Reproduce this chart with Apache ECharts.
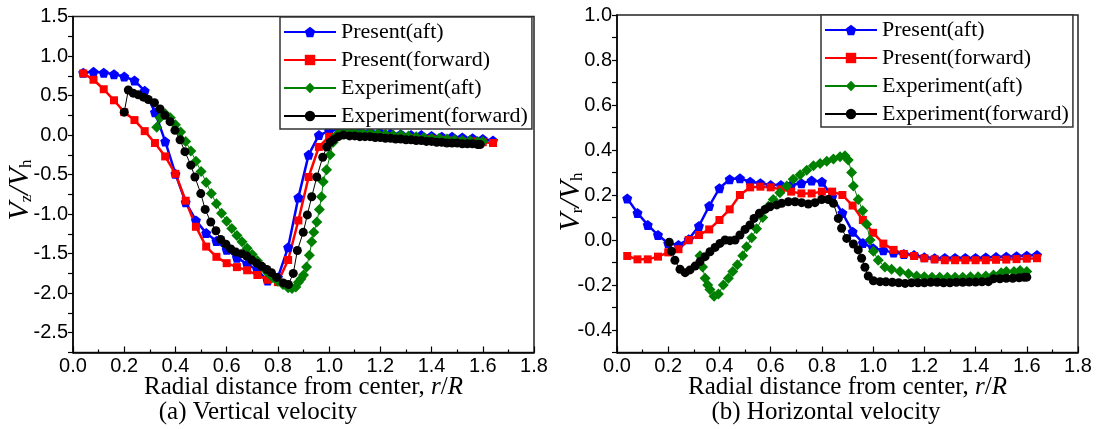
<!DOCTYPE html>
<html><head><meta charset="utf-8">
<script src="https://cdn.jsdelivr.net/npm/echarts/dist/echarts.min.js"></script>
<style>html,body{margin:0;padding:0;background:#fff}#c{width:1100px;height:429px}</style>
</head><body><div id="c"></div>
<script>
const seriesNames = ['Present(aft)', 'Present(forward)', 'Experiment(aft)', 'Experiment(forward)'];
const captions = ['(a) Vertical velocity', '(b) Horizontal velocity'];

// shared radial stations of the present computation
const presentX = [0.04,0.08,0.12,0.16,0.20,0.24,0.28,0.32,0.36,0.40,0.44,0.48,0.52,0.56,0.60,0.64,0.68,0.72,0.76,0.80,0.84,0.88,0.92,0.96,1.00,1.04,1.08,1.12,1.16,1.20,1.24,1.28,1.32,1.36,1.40,1.44,1.48,1.52,1.56,1.60,1.64];

// (a) vertical velocity
const vzPresentAft = [0.79,0.80,0.79,0.77,0.74,0.69,0.56,0.29,-0.08,-0.49,-0.85,-1.08,-1.24,-1.34,-1.45,-1.55,-1.63,-1.71,-1.84,-1.80,-1.42,-0.79,-0.25,0.00,0.05,0.07,0.06,0.05,0.04,0.03,0.02,0.01,0.00,0.00,-0.01,-0.02,-0.02,-0.03,-0.04,-0.05,-0.07];
const vzPresentFwd = [0.78,0.70,0.58,0.44,0.29,0.19,0.05,-0.10,-0.27,-0.49,-0.83,-1.16,-1.41,-1.54,-1.62,-1.67,-1.71,-1.77,-1.83,-1.86,-1.58,-1.08,-0.53,-0.15,-0.02,0.02,0.01,0.00,-0.01,-0.02,-0.03,-0.03,-0.04,-0.05,-0.05,-0.06,-0.07,-0.08,-0.08,-0.09,-0.10];
const vzExpAftX = [0.327,0.34,0.36,0.38,0.40,0.42,0.44,0.46,0.48,0.50,0.52,0.54,0.56,0.58,0.60,0.62,0.64,0.66,0.68,0.70,0.72,0.74,0.76,0.78,0.80,0.82,0.84,0.855,0.87,0.88,0.89,0.90,0.912,0.923,0.932,0.94,0.952,0.962,0.97,0.977,0.99,1.004,1.016,1.03,1.05,1.07,1.10,1.13,1.16,1.19,1.22,1.25,1.28,1.31,1.34,1.37,1.40,1.43,1.46,1.49,1.52,1.55,1.58,1.60];
const vzExpAftY = [0.10,0.22,0.27,0.22,0.13,0.04,-0.08,-0.20,-0.33,-0.46,-0.60,-0.74,-0.87,-0.99,-1.09,-1.18,-1.27,-1.35,-1.43,-1.51,-1.59,-1.67,-1.74,-1.80,-1.85,-1.89,-1.93,-1.94,-1.92,-1.86,-1.82,-1.77,-1.67,-1.52,-1.35,-1.23,-1.10,-0.94,-0.78,-0.59,-0.44,-0.25,-0.09,0.00,0.04,0.05,0.04,0.03,0.03,0.02,0.01,0.00,0.00,-0.01,-0.02,-0.03,-0.04,-0.04,-0.05,-0.06,-0.07,-0.07,-0.08,-0.08];
const vzExpFwdX = [0.200,0.216,0.235,0.255,0.275,0.294,0.318,0.340,0.359,0.379,0.398,0.418,0.437,0.460,0.476,0.499,0.516,0.538,0.558,0.577,0.597,0.616,0.636,0.659,0.678,0.698,0.717,0.737,0.757,0.775,0.795,0.821,0.841,0.860,0.876,0.899,0.915,0.932,0.952,0.975,0.991,1.004,1.016,1.036,1.056,1.08,1.10,1.12,1.14,1.16,1.18,1.20,1.22,1.24,1.26,1.28,1.30,1.32,1.34,1.36,1.38,1.40,1.42,1.44,1.46,1.48,1.50,1.52,1.54,1.56,1.58,1.59];
const vzExpFwdY = [0.29,0.57,0.53,0.51,0.48,0.45,0.41,0.33,0.25,0.17,0.06,-0.06,-0.21,-0.38,-0.53,-0.74,-0.94,-1.10,-1.21,-1.32,-1.38,-1.44,-1.48,-1.50,-1.53,-1.58,-1.62,-1.66,-1.70,-1.74,-1.80,-1.87,-1.89,-1.75,-1.46,-1.23,-1.01,-0.78,-0.53,-0.28,-0.15,-0.09,-0.06,-0.02,0.00,-0.01,-0.01,-0.02,-0.02,-0.02,-0.03,-0.03,-0.04,-0.04,-0.05,-0.05,-0.06,-0.06,-0.07,-0.07,-0.08,-0.08,-0.09,-0.09,-0.10,-0.10,-0.10,-0.11,-0.11,-0.11,-0.12,-0.12];

// (b) horizontal velocity
const vrPresentAft = [0.185,0.12,0.067,0.022,-0.015,-0.022,0.003,0.062,0.151,0.23,0.27,0.274,0.259,0.252,0.244,0.244,0.244,0.252,0.264,0.259,0.192,0.12,0.037,-0.013,-0.037,-0.046,-0.056,-0.062,-0.067,-0.077,-0.081,-0.08,-0.08,-0.08,-0.08,-0.078,-0.076,-0.074,-0.072,-0.07,-0.067];
const vrPresentFwd = [-0.071,-0.086,-0.086,-0.074,-0.055,-0.041,0.0,0.022,0.047,0.089,0.136,0.2,0.234,0.237,0.234,0.225,0.215,0.207,0.207,0.215,0.215,0.2,0.153,0.089,0.032,-0.016,-0.044,-0.062,-0.071,-0.081,-0.086,-0.09,-0.09,-0.09,-0.09,-0.09,-0.088,-0.087,-0.085,-0.083,-0.081];
const vrExpAftX = [0.324,0.334,0.344,0.354,0.363,0.379,0.396,0.415,0.435,0.452,0.470,0.491,0.506,0.526,0.545,0.569,0.591,0.610,0.636,0.663,0.688,0.715,0.741,0.767,0.793,0.819,0.845,0.871,0.890,0.903,0.916,0.923,0.942,0.959,0.975,0.988,1.001,1.020,1.046,1.072,1.105,1.138,1.170,1.20,1.23,1.26,1.29,1.32,1.35,1.38,1.41,1.44,1.47,1.50,1.52,1.55,1.574,1.60];
const vrExpAftY = [-0.07,-0.12,-0.17,-0.20,-0.22,-0.25,-0.24,-0.20,-0.17,-0.14,-0.11,-0.07,-0.03,0.01,0.05,0.10,0.15,0.18,0.21,0.24,0.27,0.29,0.31,0.33,0.34,0.35,0.36,0.37,0.375,0.356,0.30,0.24,0.18,0.13,0.07,0.00,-0.05,-0.09,-0.12,-0.13,-0.14,-0.15,-0.16,-0.163,-0.165,-0.165,-0.165,-0.165,-0.165,-0.163,-0.163,-0.16,-0.155,-0.145,-0.14,-0.14,-0.136,-0.14];
const vrExpFwdX = [0.204,0.213,0.226,0.246,0.266,0.285,0.305,0.324,0.344,0.363,0.383,0.402,0.422,0.441,0.461,0.480,0.500,0.519,0.535,0.556,0.578,0.597,0.624,0.643,0.669,0.695,0.721,0.747,0.773,0.799,0.825,0.845,0.864,0.877,0.897,0.923,0.942,0.955,0.968,0.981,1.001,1.027,1.05,1.075,1.10,1.125,1.15,1.175,1.20,1.225,1.25,1.275,1.30,1.325,1.35,1.375,1.40,1.425,1.45,1.47,1.495,1.52,1.545,1.57,1.59,1.60];
const vrExpFwdY = [-0.01,-0.05,-0.09,-0.13,-0.145,-0.133,-0.116,-0.096,-0.074,-0.052,-0.033,-0.015,0.0,-0.003,0.0,0.022,0.047,0.067,0.096,0.119,0.136,0.148,0.156,0.163,0.170,0.170,0.166,0.160,0.166,0.180,0.180,0.163,0.096,0.052,0.007,-0.018,-0.044,-0.081,-0.121,-0.160,-0.181,-0.185,-0.186,-0.188,-0.19,-0.193,-0.19,-0.19,-0.19,-0.188,-0.188,-0.19,-0.19,-0.188,-0.188,-0.187,-0.187,-0.186,-0.185,-0.172,-0.172,-0.17,-0.17,-0.168,-0.166,-0.165];

const zip = (xs, ys) => xs.map((x, i) => [x, ys[i]]);
const PENTAGON = 'path://M50,0 L97.55,34.55 L79.39,90.45 L20.61,90.45 L2.45,34.55 Z';
const SERIF = 'Liberation Serif';
const SANS = 'Liberation Sans';

const styles = [
  { color: '#0000ff', symbol: PENTAGON, symbolSize: 10, width: 2.5 },
  { color: '#ff0000', symbol: 'rect', symbolSize: 8, width: 2.5 },
  { color: '#008000', symbol: 'diamond', symbolSize: 11, width: 1 },
  { color: '#000000', symbol: 'circle', symbolSize: 9, width: 1 }
];

function mk(idx, gi, data) {
  const s = styles[idx];
  return {
    type: 'line', name: seriesNames[idx], xAxisIndex: gi, yAxisIndex: gi,
    data: data, symbol: s.symbol, symbolSize: s.symbolSize, showSymbol: true,
    lineStyle: { color: s.color, width: s.width },
    itemStyle: { color: s.color, borderWidth: 0 },
    animation: false, silent: true, clip: false
  };
}

function xAxis(gi) {
  return {
    type: 'value', gridIndex: gi, min: 0, max: 1.8, interval: 0.2,
    name: 'Radial distance from center, {i|r}/{i|R}', nameLocation: 'middle', nameGap: 22,
    nameMoveOverlap: false,
    nameTextStyle: { fontFamily: SERIF, fontSize: 25, color: '#000', lineHeight: 25,
      rich: { i: { fontFamily: SERIF, fontSize: 25, fontStyle: 'italic', color: '#000', lineHeight: 25 } } },
    axisLine: { show: true, onZero: false, lineStyle: { color: '#000', width: 1.5 } },
    axisTick: { show: true, inside: true, length: 6, lineStyle: { color: '#000', width: 1.2 } },
    minorTick: { show: true, splitNumber: 2, length: 3, lineStyle: { color: '#000', width: 1.2 } },
    splitLine: { show: false },
    axisLabel: { fontFamily: SANS, fontSize: 20, color: '#000', margin: 4,
      formatter: v => v.toFixed(1) }
  };
}

function yAxis(gi, min, max, step, keep) {
  return {
    type: 'value', gridIndex: gi, min: min, max: max, interval: step,
    axisLine: { show: true, onZero: false, lineStyle: { color: '#000', width: 1.5 } },
    axisTick: { show: true, inside: false, length: 5, lineStyle: { color: '#000', width: 1.2 } },
    splitLine: { show: false },
    axisLabel: { fontFamily: SANS, fontSize: 20, color: '#000', margin: 5, formatter: keep }
  };
}

function legend(left, top) {
  return {
    data: seriesNames, orient: 'vertical', left: left, top: top,
    backgroundColor: '#fff', borderColor: '#333', borderWidth: 1.5,
    padding: [3, 4, 1, 3], itemWidth: 52, itemHeight: 13, itemGap: 4,
    selectedMode: false,
    textStyle: { fontFamily: SERIF, fontSize: 22, color: '#000', lineHeight: 24 }
  };
}

const richY = {
  v: { fontFamily: SERIF, fontSize: 30, fontStyle: 'italic', lineHeight: 30, verticalAlign: 'top', fill: '#000' },
  s: { fontFamily: SERIF, fontSize: 17, lineHeight: 17, verticalAlign: 'bottom', padding: [17, 0, 0, 0], fill: '#000' }
};

const option = {
  backgroundColor: '#fff',
  animation: false,
  grid: [
    { left: 73, top: 16.5, width: 461, height: 336, show: true, borderColor: '#222', borderWidth: 1.5 },
    { left: 617, top: 15, width: 461, height: 337.5, show: true, borderColor: '#222', borderWidth: 1.5 }
  ],
  xAxis: [xAxis(0), xAxis(1)],
  yAxis: [
    yAxis(0, -2.75, 1.5, 0.25, v => (Math.round(v * 100) % 50 === 0 ? v.toFixed(1) : '')),
    yAxis(1, -0.5, 1.0, 0.1, v => (Math.round(v * 10) % 2 === 0 ? v.toFixed(1) : ''))
  ],
  legend: [legend(280, 17), legend(821, 15)],
  series: [
    mk(0, 0, zip(presentX, vzPresentAft)),
    mk(1, 0, zip(presentX, vzPresentFwd)),
    mk(2, 0, zip(vzExpAftX, vzExpAftY)),
    mk(3, 0, zip(vzExpFwdX, vzExpFwdY)),
    mk(0, 1, zip(presentX, vrPresentAft)),
    mk(1, 1, zip(presentX, vrPresentFwd)),
    mk(2, 1, zip(vrExpAftX, vrExpAftY)),
    mk(3, 1, zip(vrExpFwdX, vrExpFwdY))
  ],
  graphic: [
    { type: 'text', x: 20, y: 190, rotation: Math.PI / 2,
      style: { text: '{v|V}{s|z}{v|/V}{s|h}', rich: richY, align: 'center', verticalAlign: 'middle', fill: '#000' } },
    { type: 'text', x: 571, y: 202, rotation: Math.PI / 2,
      style: { text: '{v|V}{s|r}{v|/V}{s|h}', rich: richY, align: 'center', verticalAlign: 'middle', fill: '#000' } },
    { type: 'text', x: 258, y: 412,
      style: { text: captions[0], font: '25px "Liberation Serif"', align: 'center', verticalAlign: 'middle', fill: '#000' } },
    { type: 'text', x: 826, y: 412,
      style: { text: captions[1], font: '25px "Liberation Serif"', align: 'center', verticalAlign: 'middle', fill: '#000' } }
  ]
};

const chart = echarts.init(document.getElementById('c'), null, { renderer: 'canvas' });
chart.setOption(option);
</script>
</body></html>
